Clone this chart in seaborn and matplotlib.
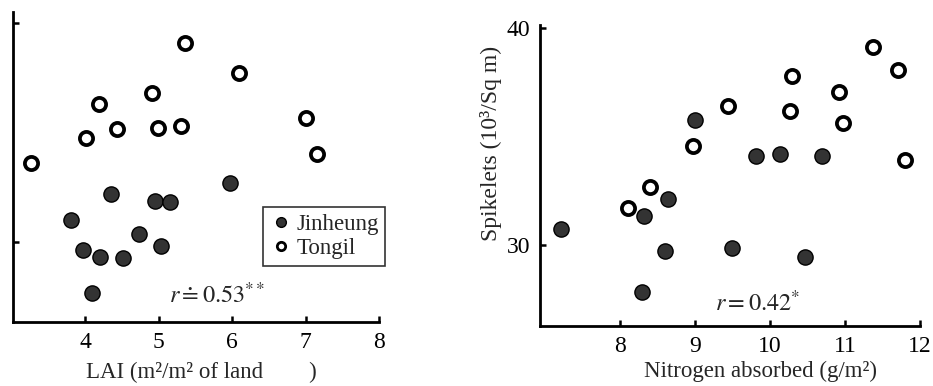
import matplotlib
matplotlib.use("Agg")
import matplotlib.pyplot as plt
import seaborn as sns
import pandas as pd
from matplotlib.lines import Line2D

sns.set_style("ticks")
plt.rcParams['font.family'] = ['Liberation Serif', 'DejaVu Serif']
plt.rcParams['mathtext.fontset'] = 'stix'

# ---- Data: LAI vs spikelets ----
lai_tongil = [5.36, 6.09, 4.91, 4.19, 7.01, 4.43, 4.99, 5.30, 4.01, 7.16, 3.26]
spk_lai_tongil = [39.09, 37.72, 36.80, 36.30, 35.66, 35.16, 35.21, 35.30, 34.75, 34.02, 33.61]
lai_jinheung = [5.97, 4.36, 4.95, 5.15, 3.81, 4.73, 5.03, 3.97, 4.20, 4.51, 4.09]
spk_lai_jinheung = [32.69, 32.19, 31.87, 31.83, 31.00, 30.37, 29.82, 29.63, 29.32, 29.27, 27.67]

# ---- Data: Nitrogen absorbed vs spikelets ----
n_tongil = [11.37, 11.71, 10.30, 10.92, 9.44, 10.27, 10.98, 8.98, 11.80, 8.41, 8.11]
spk_n_tongil = [39.14, 38.06, 37.79, 37.04, 36.41, 36.18, 35.61, 34.58, 33.92, 32.69, 31.72]
n_jinheung = [9.00, 9.81, 10.13, 10.70, 8.64, 8.33, 7.22, 8.61, 9.50, 10.47, 8.30]
spk_n_jinheung = [35.76, 34.12, 34.18, 34.12, 32.11, 31.35, 30.74, 29.72, 29.85, 29.46, 27.85]

lai_ticks = [4, 5, 6, 7, 8]
n_ticks = [8, 9, 10, 11, 12]
y_ticks = [30, 40]
r_lai = "$r\\doteq0.53^{**}$"
r_n = "$r=0.42^{*}$"

df_lai = pd.DataFrame({
    "x": lai_jinheung + lai_tongil,
    "y": spk_lai_jinheung + spk_lai_tongil,
    "variety": ["Jinheung"] * len(lai_jinheung) + ["Tongil"] * len(lai_tongil),
})
df_n = pd.DataFrame({
    "x": n_jinheung + n_tongil,
    "y": spk_n_jinheung + spk_n_tongil,
    "variety": ["Jinheung"] * len(n_jinheung) + ["Tongil"] * len(n_tongil),
})

fig = plt.figure(figsize=(9.33, 3.86), dpi=100)
W, H = 933, 386
axL = fig.add_axes([13 / W, 1 - 322 / H, (379 - 13) / W, (322 - 12) / H])
axR = fig.add_axes([540 / W, 1 - 326 / H, (920 - 540) / W, (326 - 25) / H])

filled_kw = dict(s=120, color="#333333", edgecolor="black", linewidth=1.0, zorder=3)
open_kw = dict(s=90, color="white", edgecolor="black", linewidth=2.7, zorder=3)

for ax, df in ((axL, df_lai), (axR, df_n)):
    sub = df[df.variety == "Jinheung"]
    sns.scatterplot(data=sub, x="x", y="y", ax=ax, legend=False, **filled_kw)
    sub = df[df.variety == "Tongil"]
    sns.scatterplot(data=sub, x="x", y="y", ax=ax, legend=False, **open_kw)
    sns.despine(ax=ax)
    for sp in ("left", "bottom"):
        ax.spines[sp].set_linewidth(2.0)
        ax.spines[sp].set_color("black")
    ax.tick_params(direction="in", length=4, width=1.8, labelsize=17, pad=7, colors="black")

axL.set_xlim(3.02, 8.0)
axL.set_ylim(26.35, 40.5)
axL.set_xticks(lai_ticks)
axL.set_yticks(y_ticks)
axL.set_yticklabels([])
axL.set_xlabel("LAI (m²/m² of land        )", fontsize=16.5)
axL.xaxis.set_label_coords(0.514, -0.13)
axL.set_ylabel("")
axL.text(0.557, 0.087, r_lai, transform=axL.transAxes, ha="center", va="center", fontsize=17.5)

axR.set_xlim(6.94, 12.0)
axR.set_ylim(26.27, 40.14)
axR.set_xticks(n_ticks)
axR.set_yticks(y_ticks)
axR.set_xlabel("Nitrogen absorbed (g/m²)", fontsize=16.5)
axR.xaxis.set_label_coords(0.58, -0.115)
axR.set_ylabel("Spikelets (10³/Sq m)", fontsize=17)
axR.yaxis.set_label_coords(-0.1, 0.608)
axR.text(0.574, 0.076, r_n, transform=axR.transAxes, ha="center", va="center", fontsize=17.5)

handles = [
    Line2D([], [], marker="o", linestyle="none", markersize=7, markerfacecolor="#333333",
           markeredgecolor="black", markeredgewidth=1.0, label="Jinheung"),
    Line2D([], [], marker="o", linestyle="none", markersize=6, markerfacecolor="white",
           markeredgecolor="black", markeredgewidth=2.0, label="Tongil"),
]
leg = axL.legend(handles=handles, loc="upper left", bbox_to_anchor=(263 / W, 1 - 207 / H),
                 bbox_transform=fig.transFigure, borderaxespad=0, fontsize=16.5,
                 frameon=True, fancybox=False, handletextpad=0.15, handlelength=1.0,
                 labelspacing=0.15, borderpad=0.3)
leg.get_frame().set_edgecolor("black")
leg.get_frame().set_linewidth(1.2)

fig.savefig("out.png", dpi=100)
